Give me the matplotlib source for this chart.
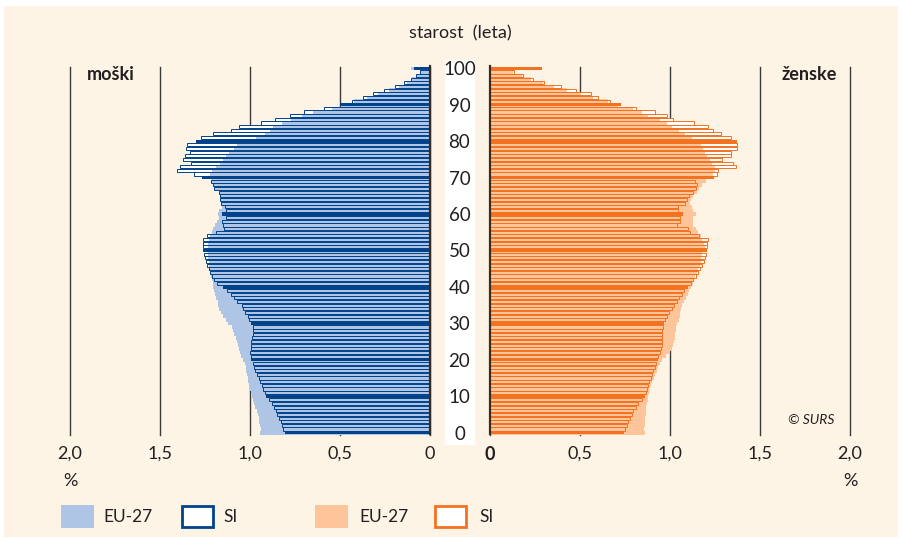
import numpy as np
import matplotlib
matplotlib.use("Agg")
import matplotlib.pyplot as plt
from matplotlib.patches import Rectangle

plt.rcParams['font.family'] = ['Lato', 'DejaVu Sans']

ages = np.arange(0, 101)

# moški (men), % of population, age 0..100
si_m = [0.806, 0.815, 0.822, 0.83, 0.837, 0.848, 0.856, 0.867, 0.880, 0.893,
        0.911, 0.917, 0.926, 0.935, 0.944, 0.952, 0.963, 0.97, 0.978, 0.985,
        0.994, 0.996, 1.0, 0.996, 0.994, 0.993, 0.989, 0.985, 0.985, 0.985,
        0.994, 1.005, 1.013, 1.026, 1.037, 1.046, 1.07, 1.087, 1.107, 1.13,
        1.152, 1.185, 1.198, 1.21, 1.222, 1.228, 1.237, 1.245, 1.25, 1.256,
        1.26, 1.26, 1.26, 1.263, 1.24, 1.189, 1.145, 1.148, 1.157, 1.135,
        1.153, 1.133, 1.14, 1.163, 1.165, 1.167, 1.17, 1.2, 1.204, 1.218,
        1.269, 1.311, 1.407, 1.389, 1.33, 1.374, 1.361, 1.333, 1.355, 1.352,
        1.30, 1.274, 1.204, 1.107, 1.059, 0.939, 0.861, 0.778, 0.698, 0.589,
        0.50, 0.431, 0.374, 0.315, 0.255, 0.194, 0.144, 0.107, 0.078, 0.053,
        0.087]
eu_m = [0.944, 0.941, 0.944, 0.948, 0.952, 0.957, 0.963, 0.97, 0.978, 0.985,
        0.991, 0.996, 1.0, 1.006, 1.009, 1.013, 1.019, 1.022, 1.025, 1.028,
        1.037, 1.048, 1.056, 1.063, 1.068, 1.074, 1.08, 1.087, 1.093, 1.102,
        1.12, 1.135, 1.15, 1.163, 1.17, 1.176, 1.18, 1.189, 1.194, 1.198,
        1.204, 1.207, 1.212, 1.218, 1.222, 1.225, 1.228, 1.23, 1.232, 1.235,
        1.237, 1.235, 1.232, 1.225, 1.22, 1.213, 1.204, 1.194, 1.185, 1.17,
        1.18, 1.17, 1.157, 1.16, 1.165, 1.167, 1.17, 1.2, 1.2, 1.218,
        1.222, 1.222, 1.213, 1.189, 1.167, 1.148, 1.133, 1.115, 1.089, 1.074,
        1.02, 0.967, 0.917, 0.89, 0.87, 0.82, 0.77, 0.713, 0.648, 0.545,
        0.49, 0.42, 0.35, 0.29, 0.23, 0.17, 0.13, 0.10, 0.075, 0.053,
        0.107]

# ženske (women)
si_f = [0.744, 0.752, 0.759, 0.767, 0.778, 0.787, 0.796, 0.811, 0.824, 0.843,
        0.861, 0.865, 0.87, 0.878, 0.885, 0.893, 0.898, 0.907, 0.915, 0.922,
        0.935, 0.935, 0.944, 0.95, 0.954, 0.954, 0.954, 0.954, 0.954, 0.959,
        0.967, 0.972, 0.985, 0.996, 1.009, 1.022, 1.037, 1.052, 1.065, 1.078,
        1.102, 1.115, 1.13, 1.144, 1.157, 1.167, 1.176, 1.189, 1.194, 1.2,
        1.207, 1.204, 1.204, 1.209, 1.163, 1.111, 1.102, 1.041, 1.056, 1.056,
        1.07, 1.046, 1.043, 1.085, 1.095, 1.105, 1.125, 1.144, 1.148, 1.139,
        1.244, 1.26, 1.269, 1.365, 1.352, 1.287, 1.337, 1.339, 1.374, 1.374,
        1.374, 1.337, 1.283, 1.237, 1.213, 1.133, 1.019, 0.981, 0.917, 0.809,
        0.726, 0.667, 0.602, 0.561, 0.478, 0.393, 0.302, 0.241, 0.183, 0.133,
        0.291]
eu_f = [0.859, 0.858, 0.86, 0.861, 0.863, 0.865, 0.867, 0.868, 0.87, 0.875,
        0.88, 0.885, 0.889, 0.895, 0.902, 0.91, 0.917, 0.926, 0.935, 0.945,
        0.955, 0.975, 0.995, 1.01, 1.019, 1.024, 1.028, 1.03, 1.033, 1.035,
        1.037, 1.052, 1.054, 1.056, 1.063, 1.069, 1.078, 1.089, 1.098, 1.107,
        1.115, 1.126, 1.13, 1.139, 1.148, 1.157, 1.167, 1.17, 1.174, 1.178,
        1.185, 1.194, 1.19, 1.18, 1.17, 1.157, 1.144, 1.13, 1.13, 1.13,
        1.144, 1.13, 1.12, 1.11, 1.115, 1.13, 1.148, 1.16, 1.176, 1.2,
        1.22, 1.24, 1.25, 1.25, 1.231, 1.222, 1.204, 1.194, 1.185, 1.17,
        1.15, 1.12, 1.083, 1.052, 1.009, 0.981, 0.944, 0.88, 0.843, 0.796,
        0.71, 0.657, 0.57, 0.504, 0.43, 0.356, 0.296, 0.23, 0.176, 0.126,
        0.27]

ticks = [0, 0.5, 1.0, 1.5, 2.0]
tick_labels = ['0', '0,5', '1,0', '1,5', '2,0']
age_ticks = list(range(0, 101, 10))

dark_blue = '#00438a'
light_blue = '#aec5e6'
dark_orange = '#f47120'
light_orange = '#fdc599'
cream = '#fdf4e6'
ink = '#231f20'

W, H = 902, 541
fig = plt.figure(figsize=(W / 100, H / 100), dpi=100, facecolor='white')


def fx(x):
    return x / W


def fy(y):
    return 1 - y / H


# cream panel and white strip behind the age labels
fig.patches.append(Rectangle((fx(4), fy(537)), fx(894), 531 / H, transform=fig.transFigure,
                             facecolor=cream, edgecolor='none', zorder=-2))
fig.patches.append(Rectangle((fx(445), fy(445)), fx(30), 385 / H, transform=fig.transFigure,
                             facecolor='white', edgecolor='none', zorder=-1))

bottom, top = fy(434.5), fy(66.5)
ax_m = fig.add_axes([fx(70), bottom, fx(360), top - bottom])
ax_f = fig.add_axes([fx(490), bottom, fx(360), top - bottom])


def pyramid(ax, si, eu, dark, light):
    si = np.array(si)
    eu = np.array(eu)
    decade = ages % 10 == 0
    ax.barh(ages, si, height=0.85, color='white', edgecolor='none', zorder=2)
    ax.barh(ages, eu, height=1.0, color=light, edgecolor='none', zorder=3)
    ax.barh(ages[~decade], si[~decade], height=0.85, facecolor='none',
            edgecolor=dark, linewidth=0.7, zorder=4)
    ax.barh(ages[decade], si[decade], height=0.9, color=dark,
            edgecolor='none', zorder=4)
    ax.set_ylim(-0.5, 100.5)
    ax.set_facecolor('none')
    ax.set_xticks(ticks)
    ax.set_xticklabels(tick_labels, fontsize=13, color=ink)
    ax.tick_params(axis='x', length=0, pad=8)
    ax.grid(axis='x', color='#3a3a3a', linewidth=1.0, zorder=0)
    for gl in ax.get_xgridlines():
        gl.set_clip_on(False)
    ax.set_axisbelow(True)
    for s in ax.spines.values():
        s.set_visible(False)


pyramid(ax_m, si_m, eu_m, dark_blue, light_blue)
pyramid(ax_f, si_f, eu_f, dark_orange, light_orange)

ax_m.set_xlim(2.0, 0)
ax_m.set_yticks([])
ax_m.spines['right'].set_visible(True)
ax_m.spines['right'].set_color('#3b2a20')
ax_m.spines['right'].set_linewidth(1.6)
ax_m.spines['right'].set_zorder(5)

ax_f.set_xlim(0, 2.0)
ax_f.spines['left'].set_visible(True)
ax_f.spines['left'].set_color('#3b2a20')
ax_f.spines['left'].set_linewidth(1.6)
ax_f.spines['left'].set_zorder(5)
ax_f.get_xticklabels()[0].set_fontweight('bold')
ax_f.set_yticks(age_ticks)
ax_f.set_yticklabels([str(a) for a in age_ticks], fontsize=13.5, color=ink, ha='center')
ax_f.tick_params(axis='y', length=0, pad=22)

# texts
fig.text(fx(460), fy(33), 'starost  (leta)', fontsize=13, color=ink, ha='center', va='center')
fig.text(fx(111), fy(74), 'moški', fontsize=13, fontweight='bold', color=ink, ha='center', va='center')
fig.text(fx(809), fy(74), 'ženske', fontsize=13, fontweight='bold', color=ink, ha='center', va='center')
fig.text(fx(811), fy(420), '© SURS', fontsize=10, style='italic', color=ink, ha='center', va='center')
fig.text(fx(70), fy(481), '%', fontsize=13, color=ink, ha='center', va='center')
fig.text(fx(850), fy(481), '%', fontsize=13, color=ink, ha='center', va='center')

# legend
legend_items = [(61, light_blue, None, 'EU-27', 103),
                (181, 'white', dark_blue, 'SI', 223),
                (315, light_orange, None, 'EU-27', 359),
                (434, 'white', dark_orange, 'SI', 479)]
for x0, fc, ec, label, tx in legend_items:
    if ec is None:
        r = Rectangle((fx(x0), fy(528)), fx(33), 23 / H, transform=fig.transFigure,
                      facecolor=fc, edgecolor='none')
    else:
        r = Rectangle((fx(x0 + 1), fy(527)), fx(31), 21 / H, transform=fig.transFigure,
                      facecolor=fc, edgecolor=ec, linewidth=2.0)
    fig.patches.append(r)
    fig.text(fx(tx), fy(517), label, fontsize=12.5, color=ink, ha='left', va='center')

fig.savefig('out.png', dpi=100, facecolor='white')
